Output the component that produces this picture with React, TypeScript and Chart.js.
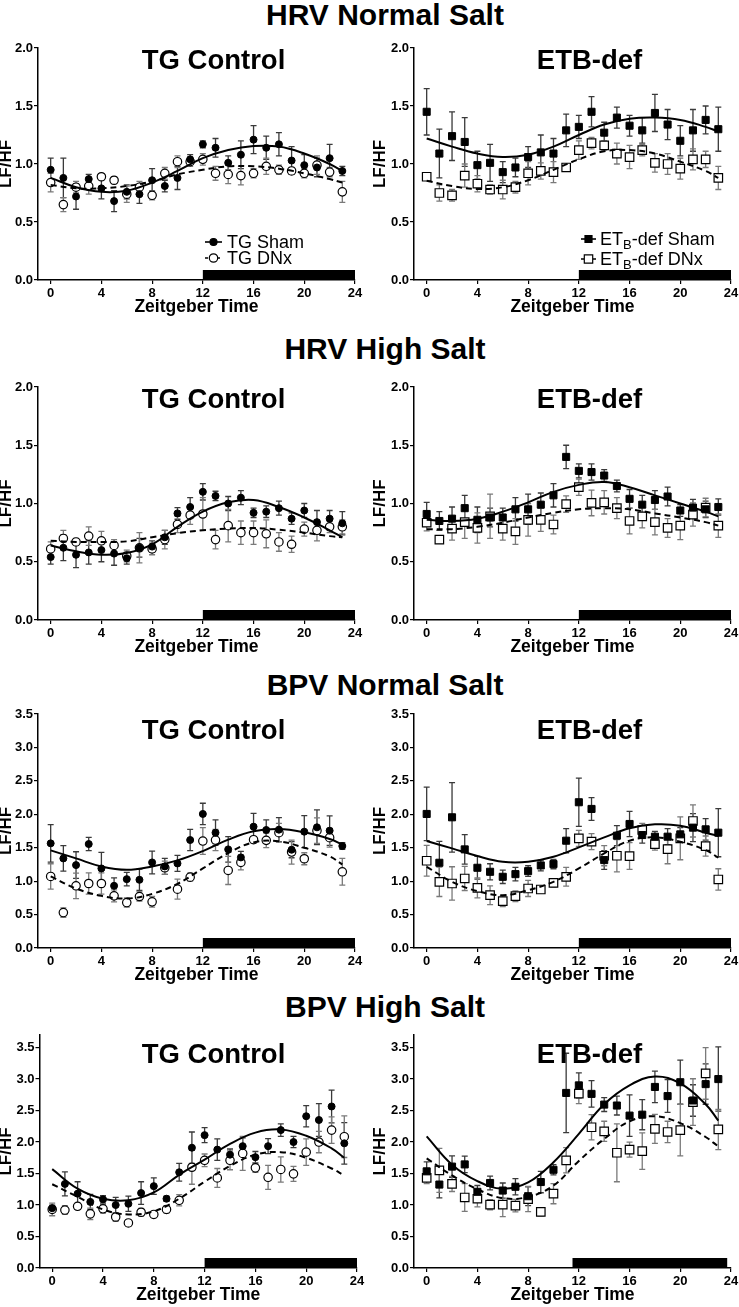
import React, { useEffect, useRef } from "react";
import { Chart, registerables } from "chart.js";
Chart.register(...registerables);

const FONT = "'Liberation Sans', Arial, Helvetica, sans-serif";

// ---------------- shared axes / labels ----------------
const hours = [0, 1, 2, 3, 4, 5, 6, 7, 8, 9, 10, 11, 12, 13, 14, 15, 16, 17, 18, 19, 20, 21, 22, 23];
const curveHours = [0, 2, 4, 6, 8, 10, 12, 14, 16, 18, 20, 22, 23];
const xTicks = [0, 4, 8, 12, 16, 20, 24];
const yTicksHrv = [0, 0.5, 1, 1.5, 2];
const yTicksBpv = [0, 0.5, 1, 1.5, 2, 2.5, 3, 3.5];
const rowTitles = ["HRV Normal Salt", "HRV High Salt", "BPV Normal Salt", "BPV High Salt"];
const panelTitles = ["TG Control", "ETB-def"];
const xAxisTitle = "Zeitgeber Time";
const yAxisTitle = "LF/HF";
const darkPhase = [12, 24];
const darkPhaseBpvHsEtb = [11.5, 23.7];

// ---------------- HRV normal salt, TG control ----------------
const hrvNsTgSham = [0.95, 0.88, 0.72, 0.87, 0.79, 0.68, 0.76, 0.74, 0.86, 0.81, 0.88, 1.04, 1.17, 1.14, 1.01, 1.08, 1.21, 1.14, 1.17, 1.03, 0.99, 0.97, 1.05, 0.94];
const hrvNsTgShamSem = [0.10, 0.17, 0.11, 0.04, 0.09, 0.09, 0.06, 0.08, 0.10, 0.05, 0.10, 0.04, 0.03, 0.08, 0.06, 0.12, 0.12, 0.10, 0.10, 0.12, 0.09, 0.08, 0.12, 0.04];
const hrvNsTgDnx = [0.84, 0.65, 0.80, 0.81, 0.89, 0.86, 0.74, 0.80, 0.73, 0.92, 1.02, 1.02, 1.04, 0.92, 0.91, 0.90, 0.92, 0.98, 0.95, 0.94, 0.92, 0.99, 0.93, 0.76];
const hrvNsTgDnxSem = [0.08, 0.06, 0.05, 0.07, 0.02, 0.03, 0.07, 0.05, 0.04, 0.05, 0.05, 0.04, 0.05, 0.06, 0.08, 0.08, 0.04, 0.07, 0.04, 0.03, 0.04, 0.08, 0.04, 0.09];
const hrvNsTgShamFit = [0.88, 0.80, 0.76, 0.77, 0.84, 0.94, 1.05, 1.12, 1.155, 1.15, 1.09, 1.00, 0.94];
const hrvNsTgDnxFit = [0.82, 0.79, 0.79, 0.81, 0.85, 0.91, 0.95, 0.98, 0.98, 0.96, 0.92, 0.87, 0.84];

// ---------------- HRV normal salt, ETB-def ----------------
const hrvNsEtbSham = [1.45, 1.09, 1.24, 1.19, 0.99, 1.01, 0.93, 0.97, 1.06, 1.10, 1.09, 1.29, 1.32, 1.45, 1.27, 1.40, 1.33, 1.29, 1.44, 1.34, 1.20, 1.29, 1.38, 1.30];
const hrvNsEtbShamSem = [0.20, 0.21, 0.21, 0.21, 0.12, 0.16, 0.09, 0.08, 0.09, 0.15, 0.13, 0.14, 0.10, 0.13, 0.09, 0.09, 0.09, 0.11, 0.16, 0.13, 0.13, 0.18, 0.12, 0.19];
const hrvNsEtbDnx = [0.89, 0.75, 0.73, 0.90, 0.83, 0.78, 0.78, 0.80, 0.92, 0.94, 0.93, 0.97, 1.12, 1.18, 1.16, 1.09, 1.06, 1.12, 1.01, 1.00, 0.96, 1.04, 1.04, 0.88];
const hrvNsEtbDnxSem = [0.02, 0.07, 0.05, 0.10, 0.07, 0.04, 0.08, 0.05, 0.10, 0.07, 0.09, 0.03, 0.08, 0.05, 0.04, 0.09, 0.10, 0.05, 0.08, 0.09, 0.09, 0.09, 0.07, 0.10];
const hrvNsEtbShamFit = [1.22, 1.15, 1.09, 1.06, 1.08, 1.15, 1.25, 1.34, 1.39, 1.40, 1.38, 1.32, 1.28];
const hrvNsEtbDnxFit = [0.855, 0.81, 0.785, 0.80, 0.86, 0.95, 1.04, 1.11, 1.12, 1.09, 1.02, 0.94, 0.88];

// ---------------- HRV high salt, TG control ----------------
const hrvHsTgSham = [0.54, 0.62, 0.56, 0.58, 0.60, 0.57, 0.53, 0.62, 0.63, 0.71, 0.915, 0.97, 1.10, 1.065, 1.00, 1.05, 0.92, 0.93, 0.96, 0.87, 0.94, 0.84, 0.87, 0.83];
const hrvHsTgShamSem = [0.06, 0.11, 0.11, 0.10, 0.10, 0.10, 0.05, 0.08, 0.05, 0.06, 0.05, 0.08, 0.07, 0.04, 0.06, 0.06, 0.04, 0.05, 0.06, 0.05, 0.06, 0.10, 0.07, 0.10];
const hrvHsTgDnx = [0.61, 0.70, 0.67, 0.72, 0.68, 0.64, 0.55, 0.62, 0.61, 0.69, 0.82, 0.90, 0.91, 0.69, 0.81, 0.75, 0.75, 0.74, 0.67, 0.65, 0.78, 0.77, 0.80, 0.80];
const hrvHsTgDnxSem = [0.06, 0.07, 0.03, 0.08, 0.08, 0.05, 0.05, 0.13, 0.05, 0.08, 0.07, 0.08, 0.14, 0.08, 0.14, 0.10, 0.10, 0.12, 0.08, 0.07, 0.06, 0.09, 0.05, 0.06];
const hrvHsTgShamFit = [0.64, 0.59, 0.56, 0.575, 0.65, 0.80, 0.93, 1.01, 1.03, 0.97, 0.88, 0.77, 0.71];
const hrvHsTgDnxFit = [0.68, 0.67, 0.67, 0.675, 0.71, 0.745, 0.77, 0.785, 0.79, 0.775, 0.75, 0.72, 0.71];

// ---------------- HRV high salt, ETB-def ----------------
const hrvHsEtbSham = [0.91, 0.85, 0.87, 0.96, 0.86, 0.88, 0.88, 0.95, 0.95, 0.99, 1.07, 1.40, 1.28, 1.27, 1.24, 1.15, 1.04, 0.99, 1.03, 1.06, 0.94, 0.965, 0.95, 0.97];
const hrvHsEtbShamSem = [0.10, 0.08, 0.10, 0.11, 0.11, 0.08, 0.08, 0.10, 0.13, 0.10, 0.10, 0.10, 0.06, 0.07, 0.05, 0.05, 0.08, 0.08, 0.08, 0.08, 0.05, 0.07, 0.07, 0.07];
const hrvHsEtbDnx = [0.835, 0.69, 0.785, 0.84, 0.79, 0.89, 0.785, 0.76, 0.86, 0.86, 0.82, 0.995, 1.14, 1.005, 1.01, 0.96, 0.85, 0.89, 0.84, 0.79, 0.81, 0.905, 0.965, 0.81];
const hrvHsEtbDnxSem = [0.07, 0.03, 0.10, 0.14, 0.13, 0.19, 0.10, 0.11, 0.14, 0.10, 0.08, 0.07, 0.07, 0.11, 0.10, 0.09, 0.11, 0.10, 0.11, 0.08, 0.12, 0.10, 0.08, 0.10];
const hrvHsEtbShamFit = [0.86, 0.85, 0.87, 0.93, 1.01, 1.10, 1.16, 1.185, 1.14, 1.07, 1.00, 0.93, 0.89];
const hrvHsEtbDnxFit = [0.78, 0.78, 0.80, 0.835, 0.88, 0.92, 0.95, 0.96, 0.95, 0.915, 0.88, 0.84, 0.81];

// ---------------- BPV normal salt, TG control ----------------
const bpvNsTgSham = [1.565, 1.34, 1.24, 1.555, 1.19, 0.93, 1.03, 1.02, 1.28, 1.22, 1.265, 1.615, 2.005, 1.725, 1.475, 1.355, 1.815, 1.765, 1.77, 1.47, 1.74, 1.805, 1.755, 1.525];
const bpvNsTgShamSem = [0.28, 0.19, 0.20, 0.10, 0.24, 0.12, 0.10, 0.16, 0.17, 0.12, 0.12, 0.16, 0.16, 0.19, 0.19, 0.09, 0.20, 0.15, 0.18, 0.12, 0.24, 0.26, 0.22, 0.05];
const bpvNsTgDnx = [1.07, 0.53, 0.93, 0.965, 0.965, 0.78, 0.68, 0.77, 0.69, 1.20, 0.88, 1.06, 1.60, 1.615, 1.16, 1.28, 1.62, 1.61, 1.725, 1.435, 1.335, 1.755, 1.65, 1.14];
const bpvNsTgDnxSem = [0.19, 0.07, 0.19, 0.16, 0.16, 0.09, 0.07, 0.07, 0.08, 0.10, 0.15, 0.06, 0.20, 0.16, 0.21, 0.11, 0.05, 0.11, 0.14, 0.18, 0.09, 0.19, 0.14, 0.20];
const bpvNsTgShamFit = [1.46, 1.34, 1.22, 1.17, 1.22, 1.31, 1.45, 1.62, 1.745, 1.78, 1.73, 1.63, 1.55];
const bpvNsTgDnxFit = [1.07, 0.89, 0.78, 0.74, 0.81, 0.96, 1.19, 1.42, 1.58, 1.595, 1.50, 1.37, 1.25];

// ---------------- BPV normal salt, ETB-def ----------------
const bpvNsEtbSham = [2.005, 1.275, 1.955, 1.475, 1.20, 1.14, 1.065, 1.105, 1.15, 1.235, 1.255, 1.605, 2.18, 2.08, 1.315, 1.68, 1.855, 1.69, 1.665, 1.665, 1.70, 1.80, 1.775, 1.725];
const bpvNsEtbShamSem = [0.40, 0.32, 0.52, 0.22, 0.17, 0.12, 0.10, 0.10, 0.08, 0.08, 0.07, 0.18, 0.36, 0.17, 0.14, 0.15, 0.19, 0.12, 0.08, 0.12, 0.10, 0.21, 0.16, 0.36];
const bpvNsEtbDnx = [1.305, 0.99, 0.965, 1.04, 0.90, 0.79, 0.70, 0.775, 0.89, 0.875, 0.975, 1.065, 1.64, 1.59, 1.38, 1.38, 1.375, 1.765, 1.555, 1.48, 1.64, 1.90, 1.525, 1.025];
const bpvNsEtbDnxSem = [0.23, 0.22, 0.25, 0.18, 0.15, 0.14, 0.08, 0.08, 0.12, 0.05, 0.06, 0.14, 0.12, 0.12, 0.15, 0.24, 0.20, 0.10, 0.09, 0.22, 0.32, 0.24, 0.15, 0.16];
const bpvNsEtbShamFit = [1.60, 1.49, 1.375, 1.29, 1.29, 1.365, 1.505, 1.655, 1.79, 1.85, 1.83, 1.725, 1.675];
const bpvNsEtbDnxFit = [1.215, 0.99, 0.85, 0.79, 0.865, 0.99, 1.19, 1.415, 1.605, 1.655, 1.59, 1.465, 1.35];

// ---------------- BPV high salt, TG control ----------------
const bpvHsTgSham = [0.95, 1.335, 1.18, 1.05, 1.09, 1.00, 1.02, 1.19, 1.30, 1.10, 1.52, 1.91, 2.11, 1.88, 1.80, 1.935, 1.76, 1.935, 2.19, 2.00, 2.41, 2.35, 2.565, 1.98];
const bpvHsTgShamSem = [0.05, 0.19, 0.19, 0.12, 0.06, 0.12, 0.12, 0.18, 0.13, 0.04, 0.14, 0.25, 0.12, 0.17, 0.09, 0.13, 0.09, 0.12, 0.10, 0.09, 0.17, 0.26, 0.26, 0.33];
const bpvHsTgDnx = [0.93, 0.92, 0.98, 0.86, 0.94, 0.81, 0.715, 0.885, 0.85, 0.93, 1.075, 1.60, 1.71, 1.43, 1.71, 1.82, 1.59, 1.44, 1.565, 1.495, 1.84, 2.00, 2.19, 2.085];
const bpvHsTgDnxSem = [0.10, 0.07, 0.05, 0.09, 0.07, 0.07, 0.05, 0.06, 0.05, 0.06, 0.09, 0.27, 0.10, 0.15, 0.15, 0.27, 0.07, 0.19, 0.20, 0.12, 0.21, 0.17, 0.21, 0.33];
const bpvHsTgShamFit = [1.57, 1.26, 1.10, 1.075, 1.20, 1.48, 1.72, 1.97, 2.15, 2.20, 2.10, 1.90, 1.75];
const bpvHsTgDnxFit = [1.33, 1.13, 0.93, 0.85, 0.90, 1.10, 1.37, 1.62, 1.80, 1.84, 1.75, 1.58, 1.47];

// ---------------- BPV high salt, ETB-def ----------------
const bpvHsEtbSham = [1.535, 1.325, 1.61, 1.645, 1.21, 1.35, 1.23, 1.29, 1.14, 1.365, 1.56, 2.78, 2.90, 2.765, 2.595, 2.58, 2.42, 2.435, 2.875, 2.73, 2.95, 2.66, 2.92, 3.00];
const bpvHsEtbShamSem = [0.15, 0.21, 0.17, 0.13, 0.10, 0.11, 0.12, 0.13, 0.15, 0.17, 0.08, 0.63, 0.20, 0.21, 0.11, 0.15, 0.33, 0.24, 0.25, 0.26, 0.35, 0.25, 0.32, 0.51];
const bpvHsEtbDnx = [1.43, 1.55, 1.335, 1.12, 1.10, 1.005, 1.005, 0.99, 1.095, 0.89, 1.18, 1.71, 2.77, 2.235, 2.17, 1.83, 1.88, 1.855, 2.21, 2.16, 2.19, 2.635, 3.09, 2.20];
const bpvHsEtbDnxSem = [0.09, 0.35, 0.12, 0.22, 0.13, 0.08, 0.19, 0.10, 0.20, 0.06, 0.16, 0.20, 0.16, 0.20, 0.16, 0.46, 0.12, 0.29, 0.23, 0.17, 0.41, 0.37, 0.41, 0.32];
const bpvHsEtbShamFit = [2.09, 1.64, 1.38, 1.26, 1.36, 1.68, 2.13, 2.60, 2.90, 3.04, 2.93, 2.60, 2.34];
const bpvHsEtbDnxFit = [1.74, 1.47, 1.25, 1.11, 1.13, 1.31, 1.70, 2.05, 2.33, 2.41, 2.30, 2.08, 1.93];

// ---------------- legends ----------------
const tgLegend = [[{ t: "TG Sham" }], [{ t: "TG DNx" }]];
const etbLegend = [
  [{ t: "ET" }, { t: "B", sub: true }, { t: "-def Sham" }],
  [{ t: "ET" }, { t: "B", sub: true }, { t: "-def DNx" }],
];

// ---------------- layout ----------------
const ROWS = [
  { top: 48, bottom: 280, yMax: 2, yTicks: yTicksHrv, titleY: 15, panelTitleY: 59 },
  { top: 387, bottom: 620, yMax: 2, yTicks: yTicksHrv, titleY: 349, panelTitleY: 398 },
  { top: 714, bottom: 948, yMax: 3.5, yTicks: yTicksBpv, titleY: 685, panelTitleY: 729 },
  { top: 1035, bottom: 1268, yMax: 3.7, yTicks: yTicksBpv, titleY: 1007, panelTitleY: 1053 },
];
const COLS = [
  { left: 0, width: 369, axisX: [38, 38, 38, 39.5], right: [355, 355, 355, 357], titleX: 213.5, yTitleLH: 0.8, marker: "circle" },
  { left: 369, width: 370, axisX: [414, 414, 414, 414], right: [731, 731, 731, 731], titleX: 589.5, yTitleLH: 1.3, marker: "rect" },
];

const PANELS = [
  { id: "a", row: 0, col: 0, sham: hrvNsTgSham, shamSem: hrvNsTgShamSem, dnx: hrvNsTgDnx, dnxSem: hrvNsTgDnxSem, shamFit: hrvNsTgShamFit, dnxFit: hrvNsTgDnxFit, dark: darkPhase, legend: tgLegend },
  { id: "b", row: 0, col: 1, sham: hrvNsEtbSham, shamSem: hrvNsEtbShamSem, dnx: hrvNsEtbDnx, dnxSem: hrvNsEtbDnxSem, shamFit: hrvNsEtbShamFit, dnxFit: hrvNsEtbDnxFit, dark: darkPhase, legend: etbLegend },
  { id: "c", row: 1, col: 0, sham: hrvHsTgSham, shamSem: hrvHsTgShamSem, dnx: hrvHsTgDnx, dnxSem: hrvHsTgDnxSem, shamFit: hrvHsTgShamFit, dnxFit: hrvHsTgDnxFit, dark: darkPhase, legend: null },
  { id: "d", row: 1, col: 1, sham: hrvHsEtbSham, shamSem: hrvHsEtbShamSem, dnx: hrvHsEtbDnx, dnxSem: hrvHsEtbDnxSem, shamFit: hrvHsEtbShamFit, dnxFit: hrvHsEtbDnxFit, dark: darkPhase, legend: null },
  { id: "e", row: 2, col: 0, sham: bpvNsTgSham, shamSem: bpvNsTgShamSem, dnx: bpvNsTgDnx, dnxSem: bpvNsTgDnxSem, shamFit: bpvNsTgShamFit, dnxFit: bpvNsTgDnxFit, dark: darkPhase, legend: null },
  { id: "f", row: 2, col: 1, sham: bpvNsEtbSham, shamSem: bpvNsEtbShamSem, dnx: bpvNsEtbDnx, dnxSem: bpvNsEtbDnxSem, shamFit: bpvNsEtbShamFit, dnxFit: bpvNsEtbDnxFit, dark: darkPhase, legend: null },
  { id: "g", row: 3, col: 0, sham: bpvHsTgSham, shamSem: bpvHsTgShamSem, dnx: bpvHsTgDnx, dnxSem: bpvHsTgDnxSem, shamFit: bpvHsTgShamFit, dnxFit: bpvHsTgDnxFit, dark: darkPhase, legend: null },
  { id: "h", row: 3, col: 1, sham: bpvHsEtbSham, shamSem: bpvHsEtbShamSem, dnx: bpvHsEtbDnx, dnxSem: bpvHsEtbDnxSem, shamFit: bpvHsEtbShamFit, dnxFit: bpvHsEtbDnxFit, dark: darkPhaseBpvHsEtb, legend: etbLegend },
];
// only first row carries legends
PANELS[7].legend = null;

const LEGEND_GEOM = [
  { line: [-150, -133], markerX: -141.5, textX: -128, rowY: [-38, -22] },
  { line: [-150, -135], markerX: -142.5, textX: -131, rowY: [-41, -21] },
];

// ---------------- plugins ----------------
function drawMarker(ctx, style, filled, x, y) {
  ctx.save();
  ctx.setLineDash([]);
  ctx.lineWidth = 1.2;
  ctx.strokeStyle = "#000";
  ctx.fillStyle = filled ? "#000" : "#fff";
  ctx.beginPath();
  if (style === "circle") {
    ctx.arc(x, y, filled ? 3.5 : 4.2, 0, Math.PI * 2);
  } else {
    const s = filled ? 3.5 : 4.2;
    ctx.rect(x - s, y - s, 2 * s, 2 * s);
  }
  ctx.fill();
  ctx.stroke();
  ctx.restore();
}

const darkBarPlugin = {
  id: "darkBar",
  beforeDatasetsDraw(chart, _args, opts) {
    const xs = chart.scales.x;
    const a = chart.chartArea;
    const x0 = xs.getPixelForValue(opts.range[0]);
    const x1 = xs.getPixelForValue(opts.range[1]);
    const ctx = chart.ctx;
    ctx.save();
    ctx.fillStyle = "#000";
    ctx.fillRect(x0, a.bottom - opts.height, x1 - x0, opts.height);
    ctx.restore();
  },
};

const errorBarPlugin = {
  id: "errorBars",
  beforeDatasetsDraw(chart) {
    const ctx = chart.ctx;
    const ys = chart.scales.y;
    chart.data.datasets.forEach((ds, i) => {
      if (!ds.errors) return;
      const meta = chart.getDatasetMeta(i);
      ctx.save();
      ctx.strokeStyle = ds.errColor;
      ctx.lineWidth = 1.3;
      meta.data.forEach((pt, j) => {
        const v = ds.data[j].y;
        const e = ds.errors[j];
        const y1 = ys.getPixelForValue(v + e);
        const y2 = ys.getPixelForValue(v - e);
        ctx.beginPath();
        ctx.moveTo(pt.x, y1);
        ctx.lineTo(pt.x, y2);
        ctx.moveTo(pt.x - 3, y1);
        ctx.lineTo(pt.x + 3, y1);
        ctx.moveTo(pt.x - 3, y2);
        ctx.lineTo(pt.x + 3, y2);
        ctx.stroke();
      });
      ctx.restore();
    });
  },
};

const legendPlugin = {
  id: "panelLegend",
  afterDatasetsDraw(chart, _args, opts) {
    if (!opts || !opts.items) return;
    const ctx = chart.ctx;
    const a = chart.chartArea;
    const g = opts.geom;
    opts.items.forEach((segs, k) => {
      const y = a.bottom + g.rowY[k];
      ctx.save();
      ctx.strokeStyle = "#000";
      ctx.lineWidth = 1.6;
      ctx.setLineDash(k === 0 ? [] : [3, 3]);
      ctx.beginPath();
      ctx.moveTo(a.right + g.line[0], y);
      ctx.lineTo(a.right + g.line[1], y);
      ctx.stroke();
      ctx.restore();
      drawMarker(ctx, opts.marker, k === 0, a.right + g.markerX, y);
      let x = a.right + g.textX;
      const base = y + 0.358 * 18;
      ctx.save();
      ctx.fillStyle = "#000";
      ctx.textBaseline = "alphabetic";
      ctx.textAlign = "left";
      segs.forEach((s) => {
        ctx.font = s.sub ? `13px ${FONT}` : `18px ${FONT}`;
        ctx.fillText(s.t, x, s.sub ? base + 4 : base);
        x += ctx.measureText(s.t).width;
      });
      ctx.restore();
    });
  },
};

// ---------------- panel ----------------
function Panel({ p }) {
  const ref = useRef(null);
  const row = ROWS[p.row];
  const col = COLS[p.col];
  const h = 8 + (row.bottom - row.top) + 38;

  useEffect(() => {
    const yW = col.axisX[p.row] - col.left;
    const padR = col.left + col.width - col.right[p.row];
    const marker = col.marker;
    const tickFont = { family: FONT, size: 13, weight: "bold" };
    const chart = new Chart(ref.current, {
      type: "scatter",
      data: {
        datasets: [
          {
            data: curveHours.map((x, i) => ({ x, y: p.shamFit[i] })),
            showLine: true,
            borderColor: "#000",
            borderWidth: 2,
            pointRadius: 0,
            pointHoverRadius: 0,
            tension: 0.4,
            fill: false,
          },
          {
            data: curveHours.map((x, i) => ({ x, y: p.dnxFit[i] })),
            showLine: true,
            borderColor: "#000",
            borderWidth: 2,
            borderDash: [6, 4],
            pointRadius: 0,
            pointHoverRadius: 0,
            tension: 0.4,
            fill: false,
          },
          {
            data: hours.map((x, i) => ({ x, y: p.sham[i] })),
            errors: p.shamSem,
            errColor: "#3a3a3a",
            showLine: false,
            pointStyle: marker,
            pointRadius: marker === "circle" ? 3.5 : 5,
            backgroundColor: "#000",
            borderColor: "#000",
            borderWidth: 1,
          },
          {
            data: hours.map((x, i) => ({ x, y: p.dnx[i] })),
            errors: p.dnxSem,
            errColor: "#7a7a7a",
            showLine: false,
            pointStyle: marker,
            pointRadius: marker === "circle" ? 4.2 : 6,
            backgroundColor: "#fff",
            borderColor: "#000",
            borderWidth: 1.2,
          },
        ],
      },
      options: {
        responsive: false,
        animation: false,
        events: [],
        layout: { padding: { left: 0, right: padR, top: 8, bottom: 0 } },
        plugins: {
          legend: { display: false },
          tooltip: { enabled: false },
          darkBar: { range: p.dark, height: 10 },
          panelLegend: p.legend ? { items: p.legend, geom: LEGEND_GEOM[p.col], marker } : {},
        },
        scales: {
          x: {
            type: "linear",
            min: -1,
            max: 24,
            afterBuildTicks: (s) => {
              s.ticks = xTicks.map((v) => ({ value: v }));
            },
            afterFit: (s) => {
              s.height = 38;
              s.paddingLeft = 0;
              s.paddingRight = 0;
            },
            ticks: {
              font: tickFont,
              color: "#000",
              padding: 2,
              maxRotation: 0,
              autoSkip: false,
              callback: (v) => String(v),
            },
            grid: { drawOnChartArea: false, drawTicks: true, tickLength: 4, color: "#000", lineWidth: 1.2 },
            border: { display: true, color: "#000", width: 1.5 },
            title: {
              display: true,
              text: xAxisTitle,
              color: "#000",
              font: { family: FONT, size: 17.5, weight: "bold" },
              padding: 0,
            },
          },
          y: {
            type: "linear",
            min: 0,
            max: row.yMax,
            afterBuildTicks: (s) => {
              s.ticks = row.yTicks.map((v) => ({ value: v }));
            },
            afterFit: (s) => {
              s.width = yW;
              s.paddingTop = 0;
              s.paddingBottom = 0;
            },
            ticks: {
              font: tickFont,
              color: "#000",
              padding: 1,
              autoSkip: false,
              callback: (v) => Number(v).toFixed(1),
            },
            grid: { drawOnChartArea: false, drawTicks: true, tickLength: 4, color: "#000", lineWidth: 1.2 },
            border: { display: true, color: "#000", width: 1.5 },
            title: {
              display: true,
              text: yAxisTitle,
              color: "#000",
              font: { family: FONT, size: 17, weight: "bold", lineHeight: col.yTitleLH },
              padding: 0,
            },
          },
        },
      },
      plugins: [darkBarPlugin, errorBarPlugin, legendPlugin],
    });
    return () => chart.destroy();
  }, []);

  return (
    <canvas
      ref={ref}
      width={col.width}
      height={h}
      style={{ position: "absolute", left: col.left, top: row.top - 8, display: "block" }}
    />
  );
}

export default function App() {
  return (
    <div
      style={{
        position: "absolute",
        left: 0,
        top: 0,
        width: 739,
        height: 1307,
        background: "#fff",
        overflow: "hidden",
        fontFamily: FONT,
      }}
    >
      {PANELS.map((p) => (
        <Panel key={p.id} p={p} />
      ))}
      {rowTitles.map((t, i) => (
        <div
          key={t}
          style={{
            position: "absolute",
            left: 385,
            top: ROWS[i].titleY - 0.4885 * 30,
            transform: "translateX(-50%)",
            fontSize: 30,
            fontWeight: "bold",
            lineHeight: "30px",
            whiteSpace: "nowrap",
            color: "#000",
          }}
        >
          {t}
        </div>
      ))}
      {ROWS.map((r, i) =>
        COLS.map((c, j) => (
          <div
            key={`pt-${i}-${j}`}
            style={{
              position: "absolute",
              left: c.titleX,
              top: r.panelTitleY - 0.4885 * 27.5,
              transform: "translateX(-50%)",
              fontSize: 27.5,
              fontWeight: "bold",
              lineHeight: "27.5px",
              whiteSpace: "nowrap",
              color: "#000",
            }}
          >
            {panelTitles[j]}
          </div>
        ))
      )}
    </div>
  );
}
